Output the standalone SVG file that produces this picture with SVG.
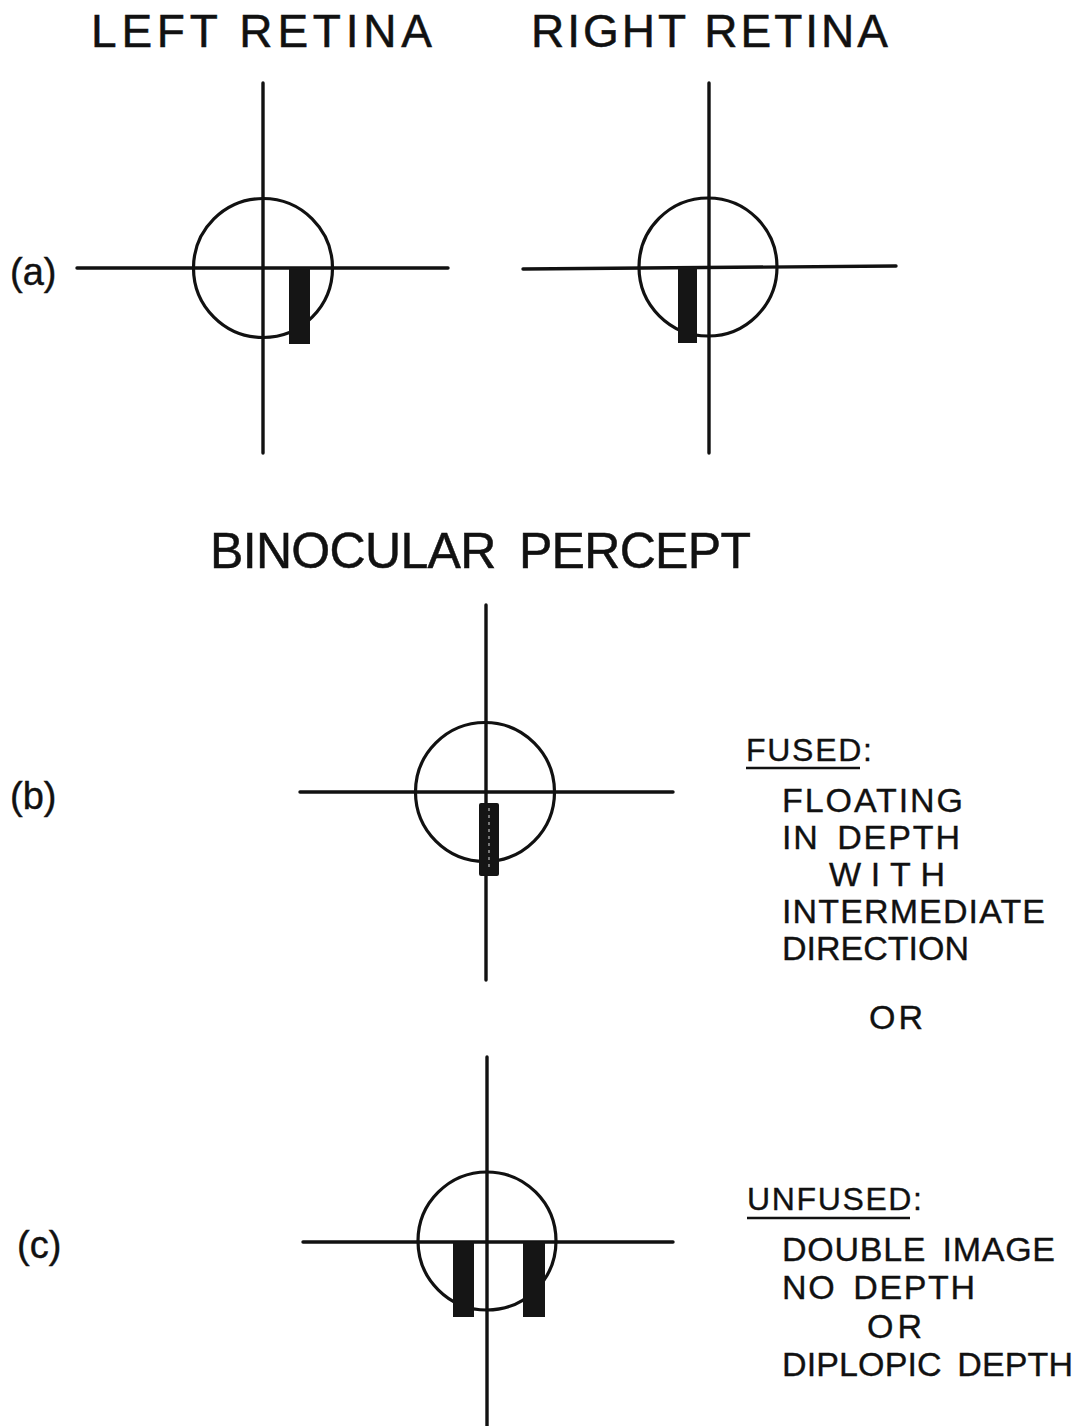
<svg xmlns="http://www.w3.org/2000/svg" width="1088" height="1426" viewBox="0 0 1088 1426">
<style>
  .ln { stroke:#111; stroke-width:3.4; fill:none; stroke-linecap:round; }
  .ring { stroke:#111; stroke-width:3.2; fill:none; }
  .bar { fill:#151515; }
  .head { font-family:"Liberation Sans", Arial, sans-serif; font-size:46px; fill:#111; stroke:#111; stroke-width:0.5; }
  .lbl { font-family:"Liberation Sans", Arial, sans-serif; font-size:38px; fill:#111; stroke:#111; stroke-width:0.4; }
  .txt { font-family:"Liberation Sans", Arial, sans-serif; font-size:34px; fill:#111; stroke:#111; stroke-width:0.35; }
  .ul { stroke:#111; stroke-width:2.5; }
</style>
<rect width="1088" height="1426" fill="#ffffff"/>

<g id="headings">
  <text class="head" x="91" y="47" textLength="341" lengthAdjust="spacing">LEFT RETINA</text>
  <text class="head" x="531" y="47" textLength="357" lengthAdjust="spacing">RIGHT RETINA</text>
  <text class="head" x="210" y="568" style="font-size:50px" textLength="541" lengthAdjust="spacing" word-spacing="10">BINOCULAR PERCEPT</text>
</g>

<g id="labels">
  <text class="lbl" x="10" y="285">(a)</text>
  <text class="lbl" x="10" y="809">(b)</text>
  <text class="lbl" x="17" y="1258">(c)</text>
</g>

<g id="left-retina">
  <circle class="ring" cx="263" cy="268" r="69.5"/>
  <line class="ln" x1="263" y1="83" x2="263" y2="453"/>
  <line class="ln" x1="77" y1="268" x2="448" y2="268"/>
  <rect class="bar" x="289" y="268" width="21" height="76"/>
</g>

<g id="right-retina">
  <circle class="ring" cx="708" cy="267" r="69"/>
  <line class="ln" x1="709" y1="83" x2="709" y2="453"/>
  <line class="ln" x1="523" y1="269" x2="896" y2="266"/>
  <rect class="bar" x="678" y="267" width="19" height="76"/>
</g>

<g id="fused-percept">
  <circle class="ring" cx="485" cy="792" r="69.5"/>
  <line class="ln" x1="486" y1="605" x2="486" y2="980"/>
  <line class="ln" x1="300" y1="792" x2="673" y2="792"/>
  <rect class="bar" x="479" y="803" width="20" height="73" rx="2"/>
  <line x1="489" y1="808" x2="489" y2="870" stroke="#777" stroke-width="2" stroke-dasharray="3 4"/>
</g>

<g id="unfused-percept">
  <circle class="ring" cx="487" cy="1241" r="69"/>
  <line class="ln" x1="487" y1="1057" x2="487" y2="1426"/>
  <line class="ln" x1="303" y1="1242" x2="673" y2="1242"/>
  <rect class="bar" x="453" y="1242" width="21" height="75"/>
  <rect class="bar" x="523" y="1242" width="22" height="75"/>
</g>

<g id="fused-text">
  <text class="txt" x="746" y="761" style="font-size:32px" textLength="126" lengthAdjust="spacing">FUSED:</text>
  <line class="ul" x1="746" y1="768" x2="860" y2="768"/>
  <text class="txt" x="782" y="812" textLength="181" lengthAdjust="spacing">FLOATING</text>
  <text class="txt" x="782" y="849" textLength="178" lengthAdjust="spacing" word-spacing="6">IN DEPTH</text>
  <text class="txt" x="829" y="886" textLength="116" lengthAdjust="spacing">WITH</text>
  <text class="txt" x="782" y="923" textLength="263" lengthAdjust="spacing">INTERMEDIATE</text>
  <text class="txt" x="782" y="960" textLength="187" lengthAdjust="spacing">DIRECTION</text>
  <text class="txt" x="869" y="1029" textLength="54" lengthAdjust="spacing">OR</text>
</g>

<g id="unfused-text">
  <text class="txt" x="747" y="1210" style="font-size:32px" textLength="175" lengthAdjust="spacing">UNFUSED:</text>
  <line class="ul" x1="747" y1="1218" x2="910" y2="1218"/>
  <text class="txt" x="782" y="1261" textLength="273" lengthAdjust="spacing" word-spacing="6">DOUBLE IMAGE</text>
  <text class="txt" x="782" y="1299" textLength="193" lengthAdjust="spacing" word-spacing="6">NO DEPTH</text>
  <text class="txt" x="867" y="1338" textLength="55" lengthAdjust="spacing">OR</text>
  <text class="txt" x="782" y="1376" textLength="291" lengthAdjust="spacing" word-spacing="6">DIPLOPIC DEPTH</text>
</g>
</svg>
